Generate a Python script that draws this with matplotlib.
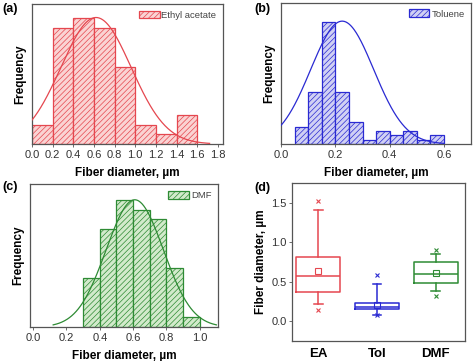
import numpy as np
import matplotlib.pyplot as plt

plt.rcParams['font.family'] = ['Liberation Sans', 'DejaVu Sans']
plt.rcParams['hatch.linewidth'] = 0.5

# histogram bins and counts
ea_edges = [0.0, 0.2, 0.4, 0.6, 0.8, 1.0, 1.2, 1.4, 1.6]
ea_counts = [2, 12, 13, 12, 8, 2, 1, 3]
tol_edges = [0.05, 0.10, 0.15, 0.20, 0.25, 0.30, 0.35, 0.40, 0.45, 0.50, 0.55, 0.60]
tol_counts = [4, 12, 28, 12, 5, 1, 3, 2, 3, 1, 2]
dmf_edges = [0.3, 0.4, 0.5, 0.6, 0.7, 0.8, 0.9, 1.0]
dmf_counts = [5, 10, 13, 12, 11, 6, 1]

# normal fit curves: (mean, sd, peak, x from, x to)
ea_fit = (0.62, 0.34, 13.1, 0.0, 1.72)
tol_fit = (0.225, 0.116, 28.3, 0.0, 0.60)
dmf_fit = (0.61, 0.172, 13.0, 0.12, 1.10)

# box plot statistics, um
box_labels = ['EA', 'Tol', 'DMF']
box_q1 = [0.364, 0.157, 0.487]
box_med = [0.576, 0.186, 0.602]
box_q3 = [0.809, 0.233, 0.754]
box_mean = [0.636, 0.21, 0.61]
box_wlo = [0.22, 0.085, 0.381]
box_whi = [1.407, 0.47, 0.847]
box_min = [0.136, 0.08, 0.318]
box_max = [1.525, 0.58, 0.898]

RED, RED_F = '#E5474F', '#FAD3D3'
BLUE, BLUE_F = '#2A2AD2', '#D0D0F4'
GREEN, GREEN_F = '#2E8B34', '#D2EACB'
FRAME = '#555555'


def style_frame(ax):
    for s in ax.spines.values():
        s.set_color(FRAME)
        s.set_linewidth(0.9)
    ax.tick_params(axis='both', length=2, width=0.6, color=FRAME, labelsize=8,
                   labelcolor='#333333', pad=2)


def hist_panel(ax, edges, counts, fit, color, fill, label, xlim, ylim, xticks):
    edges = np.array(edges)
    ax.bar(edges[:-1], counts, width=np.diff(edges), align='edge', color=fill,
           edgecolor=color, linewidth=0.9, hatch='//////', label=label, zorder=2)
    mu, sd, peak, x0, x1 = fit
    xs = np.linspace(x0, x1, 300)
    ax.plot(xs, peak * np.exp(-(xs - mu) ** 2 / (2 * sd ** 2)), color=color,
            linewidth=0.9, zorder=3)
    ax.set_xlim(*xlim)
    ax.set_ylim(0, ylim)
    ax.set_xticks(xticks)
    ax.set_xticklabels([f'{t:.1f}' for t in xticks])
    ax.set_yticks([])
    style_frame(ax)
    ax.set_xlabel('Fiber diameter, µm', fontsize=8.5, fontweight='bold', labelpad=5)
    ax.set_ylabel('Frequency', fontsize=8.5, fontweight='bold', labelpad=4)
    ax.legend(loc='upper right', frameon=False, fontsize=6.8, handlelength=2.2,
              handleheight=0.9, handletextpad=0.2, borderaxespad=0.3,
              labelcolor='#444444')


fig = plt.figure(figsize=(4.74, 3.61), dpi=100)
ax_a = fig.add_axes([0.0675, 0.601, 0.403, 0.388])
ax_b = fig.add_axes([0.593, 0.601, 0.401, 0.391])
ax_c = fig.add_axes([0.063, 0.094, 0.397, 0.396])
ax_d = fig.add_axes([0.616, 0.0554, 0.365, 0.438])

hist_panel(ax_a, ea_edges, ea_counts, ea_fit, RED, RED_F, 'Ethyl acetate',
           (0, 1.85), 14.5, np.arange(0, 1.81, 0.2))
hist_panel(ax_b, tol_edges, tol_counts, tol_fit, BLUE, BLUE_F, 'Toluene',
           (0, 0.7), 32.5, [0.0, 0.2, 0.4, 0.6])
hist_panel(ax_c, dmf_edges, dmf_counts, dmf_fit, GREEN, GREEN_F, 'DMF',
           (-0.02, 1.11), 14.6, np.arange(0, 1.01, 0.2))

# box plot panel
colors = [RED, BLUE, GREEN]
stats = []
for i, lab in enumerate(box_labels):
    stats.append(dict(label=lab, q1=box_q1[i], med=box_med[i], q3=box_q3[i],
                      mean=box_mean[i], whislo=box_wlo[i], whishi=box_whi[i],
                      fliers=[box_min[i], box_max[i]]))
for i, st in enumerate(stats):
    c = colors[i]
    ax_d.bxp([st], positions=[i + 1], widths=0.75, showmeans=True,
             boxprops=dict(color=c, linewidth=1.1),
             medianprops=dict(color=c, linewidth=1.1),
             whiskerprops=dict(color=c, linewidth=1.1),
             capprops=dict(color=c, linewidth=1.1),
             capwidths=0.15,
             meanprops=dict(marker='s', markerfacecolor='none', markeredgecolor=c,
                            markersize=4, markeredgewidth=0.8),
             flierprops=dict(marker='x', markeredgecolor=c, markersize=3.5,
                             markeredgewidth=0.8))
ax_d.set_xlim(0.55, 3.5)
ax_d.set_ylim(-0.25, 1.75)
ax_d.set_yticks([0.0, 0.5, 1.0, 1.5])
ax_d.set_yticklabels(['0.0', '0.5', '1.0', '1.5'])
ax_d.set_xticks([1, 2, 3])
ax_d.set_xticklabels(box_labels)
style_frame(ax_d)
ax_d.tick_params(axis='x', labelsize=9.5, length=0, pad=5)
for t in ax_d.get_xticklabels():
    t.set_fontweight('bold')
    t.set_color('black')
ax_d.set_ylabel('Fiber diameter, µm', fontsize=8.5, fontweight='bold', labelpad=3)

for txt, x, y in [('(a)', 0.004, 0.975), ('(b)', 0.536, 0.975),
                  ('(c)', 0.004, 0.483), ('(d)', 0.536, 0.48)]:
    fig.text(x, y, txt, fontsize=9, fontweight='bold', va='center')

fig.savefig('out.png', dpi=100)
